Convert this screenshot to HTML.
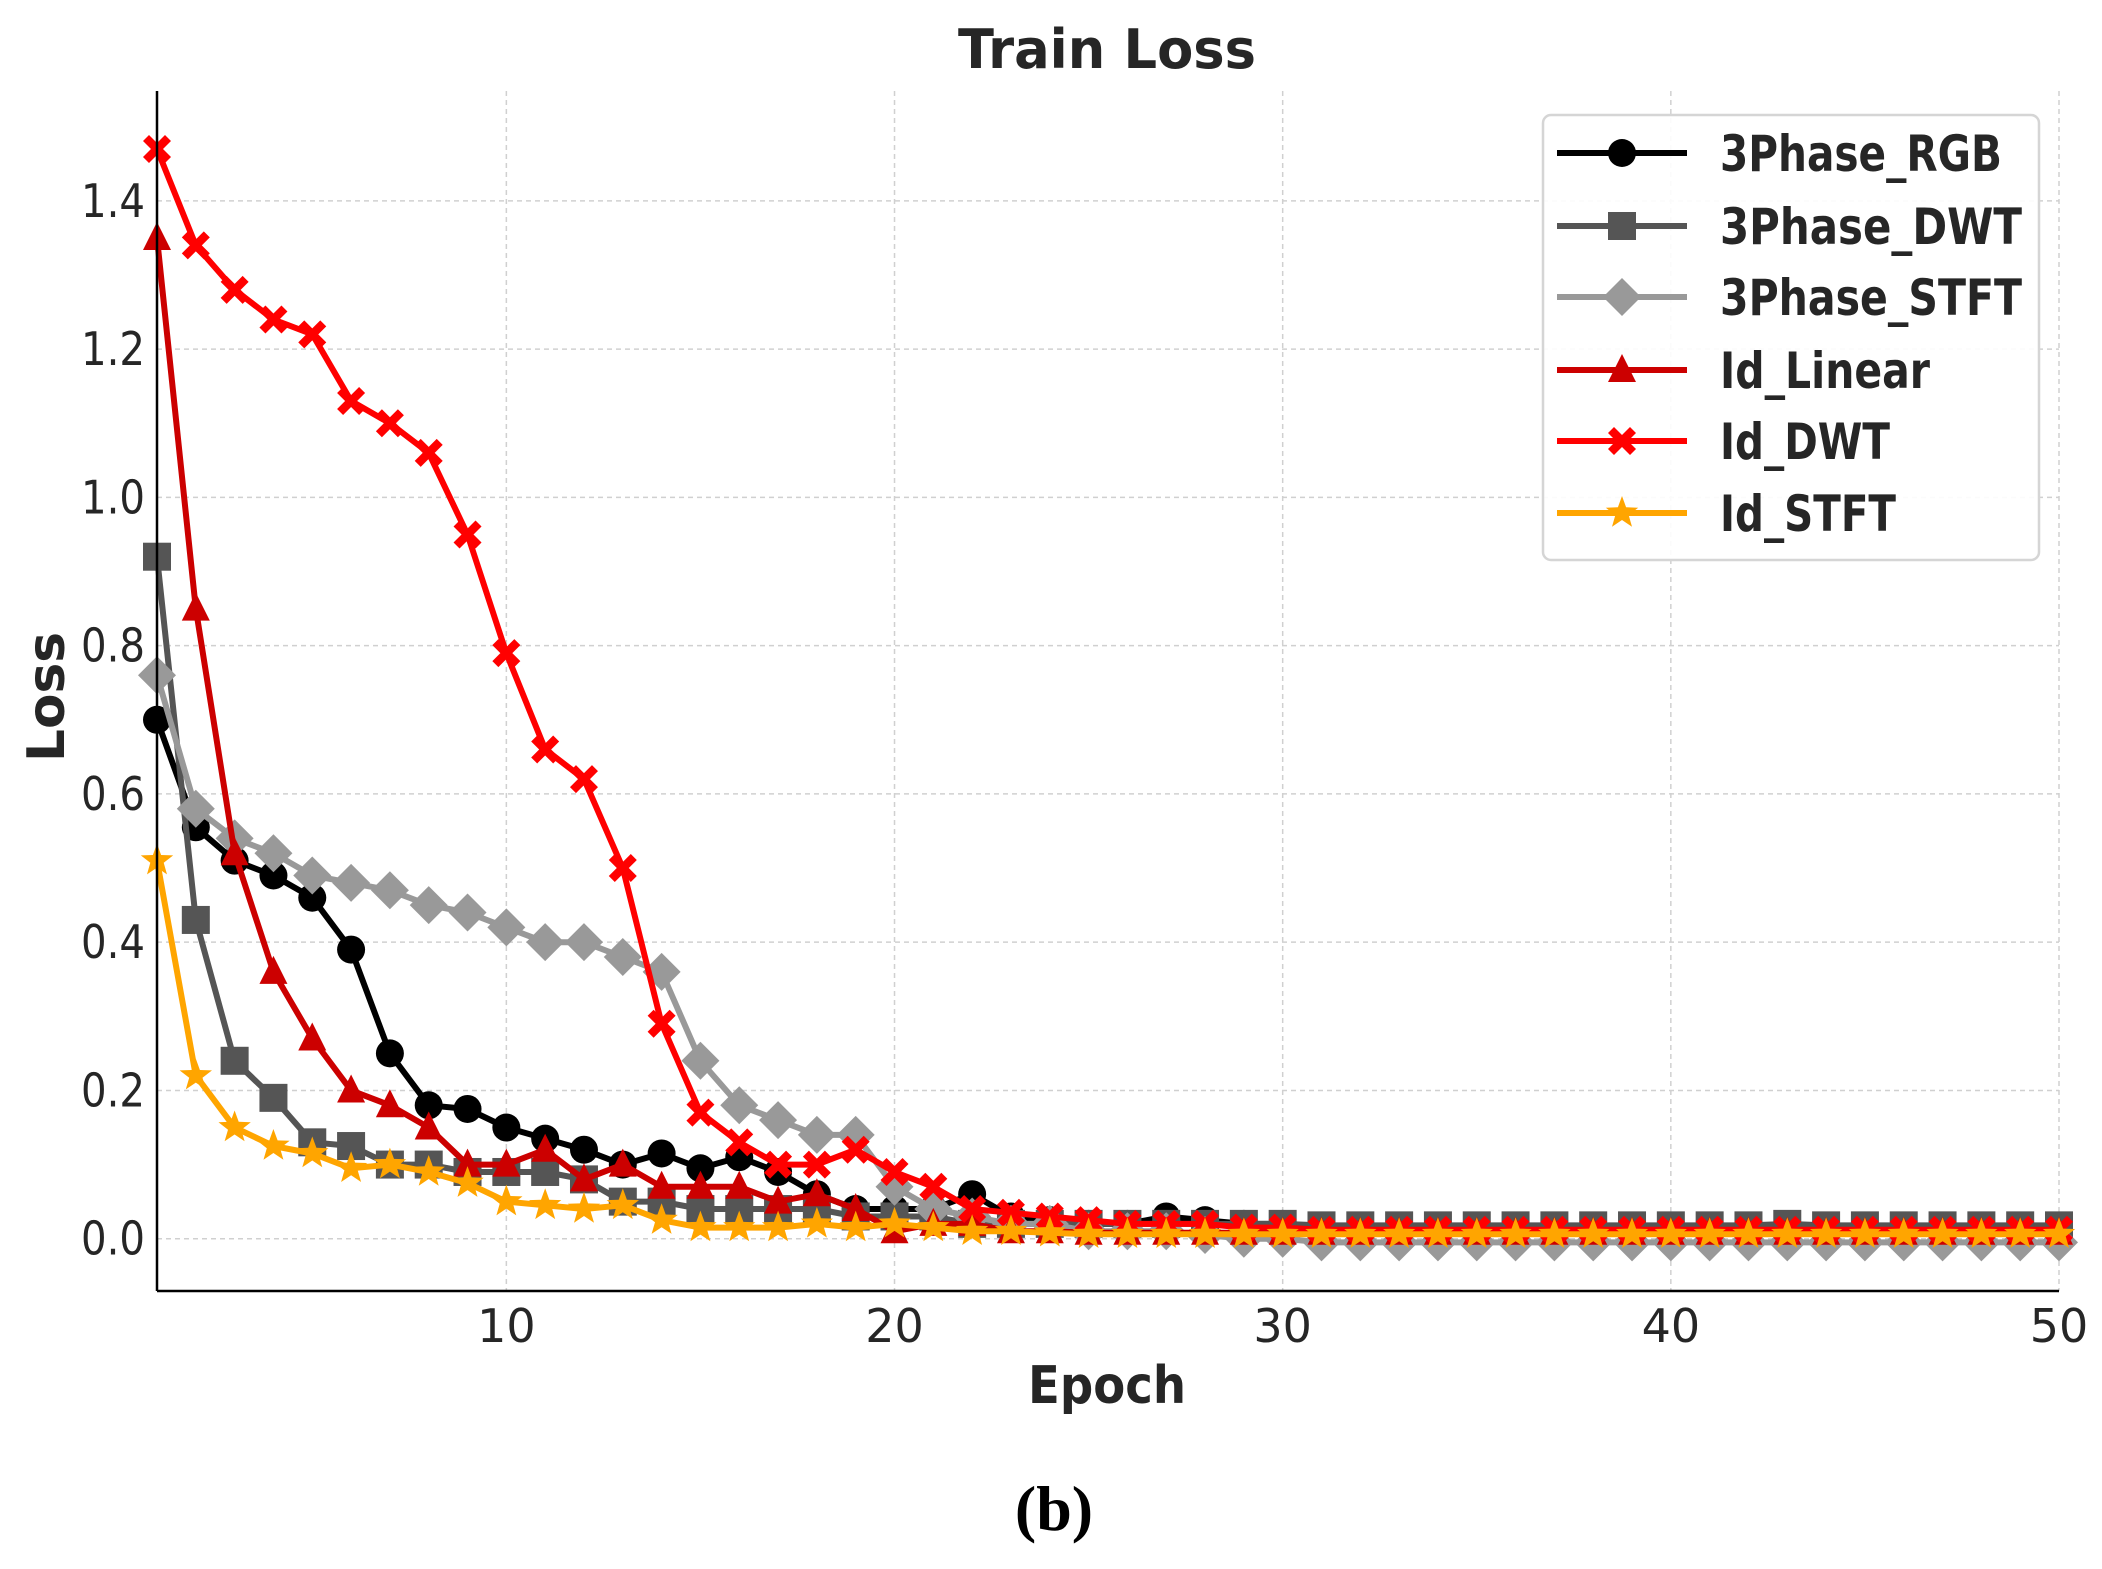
<!DOCTYPE html>
<html><head><meta charset="utf-8"><style>
html,body{margin:0;padding:0;background:#fff;}
svg{display:block;}
</style></head><body>
<svg id="chart" width="2102" height="1569" viewBox="0 0 2102 1569" xmlns="http://www.w3.org/2000/svg">
<rect width="2102" height="1569" fill="#fff"/>
<g id="grid"></g>
<g id="series"></g>
<g id="axes"></g>
<text x="1107" y="68" text-anchor="middle" font-family="DejaVu Sans, sans-serif" font-weight="bold" font-size="54" fill="#262626" textLength="298" lengthAdjust="spacingAndGlyphs">Train Loss</text>
<text x="1107" y="1403" text-anchor="middle" font-family="DejaVu Sans, sans-serif" font-weight="bold" font-size="52" fill="#262626" textLength="158" lengthAdjust="spacingAndGlyphs">Epoch</text>
<text transform="translate(64,697) rotate(-90)" text-anchor="middle" font-family="DejaVu Sans, sans-serif" font-weight="bold" font-size="52" fill="#262626" textLength="130" lengthAdjust="spacingAndGlyphs">Loss</text>
<text x="1054" y="1530" text-anchor="middle" font-family="Liberation Serif, serif" font-weight="bold" font-size="64" fill="#000">(b)</text>
<g id="legend"></g>
</svg>
<script>
const epochs = Array.from({length:50},(_,i)=>i+1);
const seriesNames = ["3Phase_RGB","3Phase_DWT","3Phase_STFT","Id_Linear","Id_DWT","Id_STFT"];
const rgbValues = [0.70,0.555,0.51,0.49,0.46,0.39,0.25,0.18,0.175,0.15,0.135,0.12,0.10,0.115,0.095,0.11,0.09,0.06,0.04,0.04,0.04,0.06,0.03,0.025,0.02,0.02,0.03,0.025,0.02,0.02,0.015,0.015,0.015,0.015,0.015,0.015,0.015,0.015,0.015,0.015,0.015,0.015,0.015,0.015,0.015,0.015,0.015,0.015,0.015,0.015];
const dwtValues = [0.92,0.43,0.24,0.19,0.13,0.125,0.10,0.10,0.09,0.09,0.09,0.08,0.05,0.05,0.04,0.04,0.04,0.04,0.03,0.03,0.03,0.02,0.02,0.02,0.02,0.02,0.02,0.02,0.02,0.02,0.018,0.018,0.018,0.018,0.018,0.018,0.018,0.018,0.018,0.018,0.018,0.018,0.02,0.018,0.018,0.018,0.018,0.018,0.018,0.018];
const stftValues = [0.76,0.58,0.54,0.52,0.49,0.48,0.47,0.45,0.44,0.42,0.40,0.40,0.38,0.36,0.24,0.18,0.16,0.14,0.14,0.07,0.04,0.03,0.02,0.02,0.01,0.01,0.01,0.005,0.0,0.0,-0.005,-0.005,-0.005,-0.005,-0.005,-0.005,-0.005,-0.005,-0.005,-0.005,-0.005,-0.005,-0.005,-0.005,-0.005,-0.005,-0.005,-0.005,-0.005,-0.005];
const linearValues = [1.35,0.85,0.52,0.36,0.27,0.20,0.18,0.15,0.10,0.10,0.12,0.08,0.10,0.07,0.07,0.07,0.05,0.06,0.04,0.01,0.02,0.02,0.01,0.01,0.008,0.008,0.008,0.008,0.008,0.008,0.008,0.008,0.008,0.008,0.008,0.008,0.008,0.008,0.008,0.008,0.008,0.008,0.008,0.008,0.008,0.008,0.008,0.008,0.008,0.008];
const idDwtValues = [1.47,1.34,1.28,1.24,1.22,1.13,1.10,1.06,0.95,0.79,0.66,0.62,0.50,0.29,0.17,0.13,0.10,0.10,0.12,0.09,0.07,0.04,0.035,0.03,0.025,0.02,0.02,0.02,0.015,0.015,0.012,0.012,0.012,0.012,0.012,0.012,0.012,0.012,0.012,0.012,0.012,0.012,0.012,0.012,0.012,0.012,0.012,0.012,0.012,0.012];
const idStftValues = [0.51,0.22,0.15,0.125,0.115,0.095,0.10,0.09,0.075,0.05,0.045,0.04,0.045,0.025,0.015,0.015,0.015,0.02,0.015,0.02,0.015,0.01,0.01,0.008,0.006,0.006,0.006,0.006,0.006,0.006,0.006,0.006,0.006,0.006,0.006,0.006,0.006,0.006,0.006,0.006,0.006,0.006,0.006,0.006,0.006,0.006,0.006,0.006,0.006,0.006];
const xTicks = [10,20,30,40,50];
const yTicks = [0.0,0.2,0.4,0.6,0.8,1.0,1.2,1.4];
const yTickLabels = ["0.0","0.2","0.4","0.6","0.8","1.0","1.2","1.4"];

const NS="http://www.w3.org/2000/svg";
const X0=157,X1=2059,YT=91,YB=1291;
function xs(e){return X0+(e-1)*(X1-X0)/49;}
function ys(v){return 1238.7-v*741.3;}
function mk(tag,attrs,parent){const el=document.createElementNS(NS,tag);for(const k in attrs)el.setAttribute(k,attrs[k]);parent.appendChild(el);return el;}

const grid=document.getElementById('grid');
xTicks.forEach(t=>{const l=mk('line',{x1:xs(t),x2:xs(t),y1:YT,y2:YB,stroke:'#d0d0d0','stroke-width':1.5,'stroke-dasharray':'5,4'},grid);

});
yTicks.forEach(t=>{const l=mk('line',{x1:X0,x2:X1,y1:ys(t),y2:ys(t),stroke:'#d0d0d0','stroke-width':1.5,'stroke-dasharray':'5,4'},grid);

});

const axes=document.getElementById('axes');
const ya=mk('line',{x1:X0,x2:X0,y1:YT,y2:YB,stroke:'#000','stroke-width':2.5},axes);


const xa=mk('line',{x1:X0,x2:X1,y1:YB,y2:YB,stroke:'#000','stroke-width':2.5},axes);


xTicks.forEach(t=>{const tx=mk('text',{x:xs(t),y:1342,'text-anchor':'middle','font-family':'DejaVu Sans, sans-serif','font-size':46,fill:'#262626'},axes);tx.textContent=String(t);

});
yTicks.forEach((t,i)=>{const tx=mk('text',{x:145,y:ys(t)+16,'text-anchor':'end','font-family':'DejaVu Sans, sans-serif','font-size':46,fill:'#262626',textLength:64,lengthAdjust:'spacingAndGlyphs'},axes);tx.textContent=yTickLabels[i];

});

function marker(type,cx,cy,color,parent){
  let el;
  if(type==='circle') el=mk('circle',{cx,cy,r:14,fill:color},parent);
  else if(type==='square') el=mk('rect',{x:cx-14,y:cy-14,width:28,height:28,fill:color},parent);
  else if(type==='diamond') el=mk('polygon',{points:`${cx},${cy-19} ${cx+19},${cy} ${cx},${cy+19} ${cx-19},${cy}`,fill:color},parent);
  else if(type==='triangle') el=mk('polygon',{points:`${cx},${cy-16} ${cx+14},${cy+12} ${cx-14},${cy+12}`,fill:color},parent);
  else if(type==='x'){const a=14,b=6;el=mk('polygon',{points:[[-a,-a+b],[-a+b,-a],[0,-b],[a-b,-a],[a,-a+b],[b,0],[a,a-b],[a-b,a],[0,b],[-a+b,a],[-a,a-b],[-b,0]].map(p=>(cx+p[0])+','+(cy+p[1])).join(' '),fill:color},parent);}
  else { let pts=[];for(let i=0;i<10;i++){const r=i%2?7:17;const ang=-Math.PI/2+i*Math.PI/5;pts.push((cx+r*Math.cos(ang)).toFixed(1)+','+(cy+r*Math.sin(ang)).toFixed(1));}el=mk('polygon',{points:pts.join(' '),fill:color},parent);}
  return el;
}

const allValues=[rgbValues,dwtValues,stftValues,linearValues,idDwtValues,idStftValues];
const colors=['#000000','#555555','#999999','#cc0000','#ff0000','#ffa500'];
const markers=['circle','square','diamond','triangle','x','star'];
const sg=document.getElementById('series');
allValues.forEach((vals,si)=>{
  const g=mk('g',{},sg);
  
  
  const d=vals.map((v,i)=>(i?'L':'M')+xs(epochs[i]).toFixed(1)+','+ys(v).toFixed(1)).join(' ');
  const p=mk('path',{d,fill:'none',stroke:colors[si],'stroke-width':6,'stroke-linejoin':'round'},g);
  
  
  vals.forEach((v,i)=>{const m=marker(markers[si],xs(epochs[i]),ys(v),colors[si],g);
    
    });
});

const lg=document.getElementById('legend');


const box=mk('rect',{x:1543,y:115,width:496,height:445,rx:8,fill:'#fff','fill-opacity':0.9,stroke:'#d5d5d5','stroke-width':2.5},lg);


const legY=[153,226,297,370,441,513];
const legW=[282,302,302,210,170,176];
seriesNames.forEach((n,i)=>{
  const g=mk('g',{},lg);
  
  
  mk('line',{x1:1557,x2:1687,y1:legY[i],y2:legY[i],stroke:colors[i],'stroke-width':6},g);
  marker(markers[i],1622,legY[i],colors[i],g);
  const t=mk('text',{x:1720,y:legY[i]+18,'font-family':'DejaVu Sans, sans-serif','font-weight':'bold','font-size':50,fill:'#262626',textLength:legW[i],lengthAdjust:'spacingAndGlyphs'},g);
  t.textContent=n;
  
  
});
</script>
</body></html>
